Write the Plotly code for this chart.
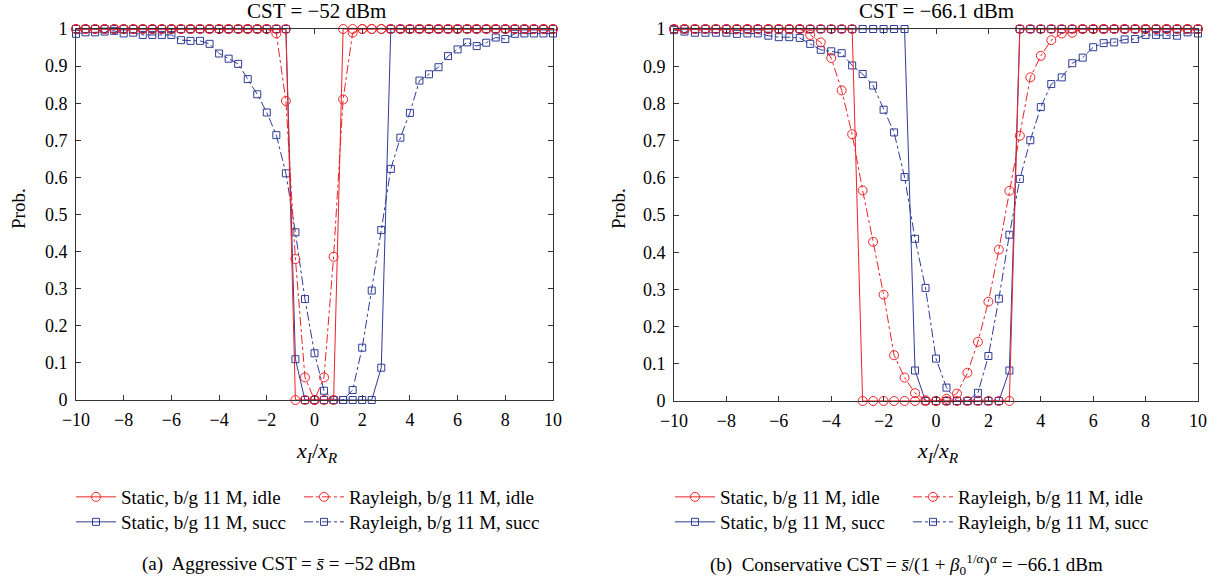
import plotly.graph_objects as go

# ---------------- data ----------------
x_vals = [-10.0, -9.6, -9.2, -8.8, -8.4, -8.0, -7.6, -7.2, -6.8, -6.4,
          -6.0, -5.6, -5.2, -4.8, -4.4, -4.0, -3.6, -3.2, -2.8, -2.4,
          -2.0, -1.6, -1.2, -0.8, -0.4, 0.0, 0.4, 0.8, 1.2, 1.6,
          2.0, 2.4, 2.8, 3.2, 3.6, 4.0, 4.4, 4.8, 5.2, 5.6,
          6.0, 6.4, 6.8, 7.2, 7.6, 8.0, 8.4, 8.8, 9.2, 9.6, 10.0]

# (a) aggressive CST = -52 dBm
a_static_idle = [1]*23 + [0]*5 + [1]*23
a_rayleigh_idle = [1]*21 + [0.988, 0.806, 0.38, 0.061, 0.0, 0.061, 0.386, 0.81, 0.99] + [1]*21
a_static_succ = [1]*23 + [0.11] + [0]*8 + [0.087] + [1]*18
a_rayleigh_succ = [0.987, 0.991, 0.991, 0.993, 0.995, 0.988, 0.990, 0.984, 0.984, 0.984,
                   0.984, 0.970, 0.968, 0.968, 0.960, 0.934, 0.920, 0.906, 0.865, 0.824,
                   0.775, 0.714, 0.611, 0.452, 0.272, 0.126, 0.025, 0.0, 0.0, 0.027,
                   0.141, 0.295, 0.458, 0.623, 0.707, 0.774, 0.861, 0.878, 0.897, 0.927,
                   0.945, 0.964, 0.954, 0.963, 0.977, 0.973, 0.987, 0.988, 0.988, 0.988, 0.988]

# (b) conservative CST = -66.1 dBm
b_static_idle = [1]*18 + [0]*15 + [1]*18
b_rayleigh_idle = [1]*13 + [0.984, 0.964, 0.922, 0.835, 0.717, 0.566, 0.428, 0.286, 0.123, 0.063,
                            0.021, 0.002, 0.0, 0.006, 0.02, 0.076, 0.159, 0.267, 0.407, 0.565,
                            0.713, 0.87, 0.928, 0.97, 0.988, 0.99] + [1]*12
b_static_succ = [1]*23 + [0.082] + [0]*8 + [0.082] + [1]*18
b_rayleigh_succ = [0.997, 0.993, 0.990, 0.990, 0.990, 0.990, 0.987, 0.988, 0.988, 0.982,
                   0.978, 0.978, 0.976, 0.960, 0.944, 0.940, 0.935, 0.902, 0.879, 0.848,
                   0.783, 0.722, 0.602, 0.436, 0.304, 0.114, 0.036, 0.0, 0.0, 0.022,
                   0.121, 0.275, 0.447, 0.597, 0.701, 0.790, 0.852, 0.870, 0.908, 0.923,
                   0.951, 0.962, 0.964, 0.972, 0.973, 0.984, 0.984, 0.984, 0.982, 0.991, 0.988]

series_names = ["Static, b/g 11 M, idle", "Rayleigh, b/g 11 M, idle",
                "Static, b/g 11 M, succ", "Rayleigh, b/g 11 M, succ"]

x_ticks = [-10, -8, -6, -4, -2, 0, 2, 4, 6, 8, 10]
x_ticktext = ["\u221210", "\u22128", "\u22126", "\u22124", "\u22122", "0", "2", "4", "6", "8", "10"]
y_ticks = [0, 0.1, 0.2, 0.3, 0.4, 0.5, 0.6, 0.7, 0.8, 0.9, 1]
y_ticktext = ["0", "0.1", "0.2", "0.3", "0.4", "0.5", "0.6", "0.7", "0.8", "0.9", "1"]

panel_titles = ["CST = \u221252 dBm", "CST = \u221266.1 dBm"]
captions = ["(a)  Aggressive CST = <i>s\u0304</i> = \u221252 dBm",
            "(b)  Conservative CST = <i>s\u0304</i>/(1 + <i>\u03b2</i><sub>0</sub><sup>1/<i>\u03b1</i></sup>)<sup><i>\u03b1</i></sup> = \u221266.1 dBm"]

# ---------------- styling ----------------
W, H = 1220, 584
RED = "#EE2328"
BLUE = "#2F3C96"
FONT = "Liberation Serif"

def px_x(p):
    return p / W

def px_y(p):
    return 1 - p / H

fig = go.Figure()

panels = [
    dict(xa="x", ya="y", data=[a_static_idle, a_rayleigh_idle, a_static_succ, a_rayleigh_succ],
         leg0=1, lx=[71, 299]),
    dict(xa="x2", ya="y2", data=[b_static_idle, b_rayleigh_idle, b_static_succ, b_rayleigh_succ],
         leg0=5, lx=[670, 908]),
]

styles = [
    dict(color=RED, dash="solid", symbol="circle-open", size=9),
    dict(color=RED, dash="dashdot", symbol="circle-open", size=9),
    dict(color=BLUE, dash="solid", symbol="square-open", size=7),
    dict(color=BLUE, dash="dashdot", symbol="square-open", size=7),
]
col_of = [0, 1, 0, 1]
row_y = [497, 497, 522, 522]
draw_order = [2, 3, 0, 1]

leg_layout = {}
for p in panels:
    for k in draw_order:
        st = styles[k]
        n = p["leg0"] + k
        lname = "legend" if n == 1 else f"legend{n}"
        fig.add_trace(go.Scatter(
            x=x_vals, y=p["data"][k], xaxis=p["xa"], yaxis=p["ya"],
            mode="lines+markers", name=series_names[k],
            line=dict(color=st["color"], width=1, dash=st["dash"]),
            marker=dict(symbol=st["symbol"], size=st["size"], color=st["color"],
                        line=dict(width=1, color=st["color"])),
            cliponaxis=False, legend=lname,
        ))
        leg_layout[lname] = dict(
            x=px_x(p["lx"][col_of[k]]), y=px_y(row_y[k]),
            font=dict(family=FONT, size=19, color="black"), bgcolor="rgba(0,0,0,0)",
            orientation="v", xanchor="left", yanchor="middle", itemwidth=40)

axis_common = dict(
    range=[-10, 10], showgrid=False, zeroline=False, showline=True, linecolor="#333333",
    linewidth=1, mirror="ticks", ticks="inside", ticklen=5, tickcolor="#333333",
    tickfont=dict(family=FONT, size=18, color="black"),
)

fig.update_layout(
    width=W, height=H, margin=dict(l=0, r=0, t=0, b=0, autoexpand=False),
    paper_bgcolor="white", plot_bgcolor="white", showlegend=True,
    xaxis=dict(domain=[px_x(76), px_x(553)], anchor="y", tickvals=x_ticks, ticktext=x_ticktext,
               ticklabelstandoff=3, **axis_common),
    yaxis=dict(domain=[px_y(400), px_y(29)], anchor="x", tickvals=y_ticks, ticktext=y_ticktext,
               ticklabelstandoff=4, **{**axis_common, "range": [0, 1]}),
    xaxis2=dict(domain=[px_x(674), px_x(1198)], anchor="y2", tickvals=x_ticks, ticktext=x_ticktext,
                ticklabelstandoff=3, **axis_common),
    yaxis2=dict(domain=[px_y(401), px_y(29)], anchor="x2", tickvals=y_ticks, ticktext=y_ticktext,
                ticklabelstandoff=4, **{**axis_common, "range": [0, 1]}),
    **leg_layout,
)

ann = []
for cx, t in zip([316, 936], panel_titles):
    ann.append(dict(x=px_x(cx), y=px_y(11), xref="paper", yref="paper", text=t, showarrow=False,
                    font=dict(family=FONT, size=21, color="black"), xanchor="center", yanchor="middle"))
for cx in [317, 938]:
    ann.append(dict(x=px_x(cx), y=px_y(452), xref="paper", yref="paper",
                    text="<i>x</i><sub><i>I</i></sub>/<i>x</i><sub><i>R</i></sub>", showarrow=False,
                    font=dict(family=FONT, size=22, color="black"), xanchor="center", yanchor="middle"))
for cx in [18, 618]:
    ann.append(dict(x=px_x(cx), y=px_y(209), xref="paper", yref="paper", text="Prob.", showarrow=False,
                    textangle=-90, font=dict(family=FONT, size=19, color="black"),
                    xanchor="center", yanchor="middle"))
for cx, t in zip([279, 906], captions):
    ann.append(dict(x=px_x(cx), y=px_y(564), xref="paper", yref="paper", text=t, showarrow=False,
                    font=dict(family=FONT, size=19, color="black"), xanchor="center", yanchor="middle"))
fig.update_layout(annotations=ann)

fig.write_html("out.html", config={"displayModeBar": False},
               post_script="document.body.style.margin='0px';")
